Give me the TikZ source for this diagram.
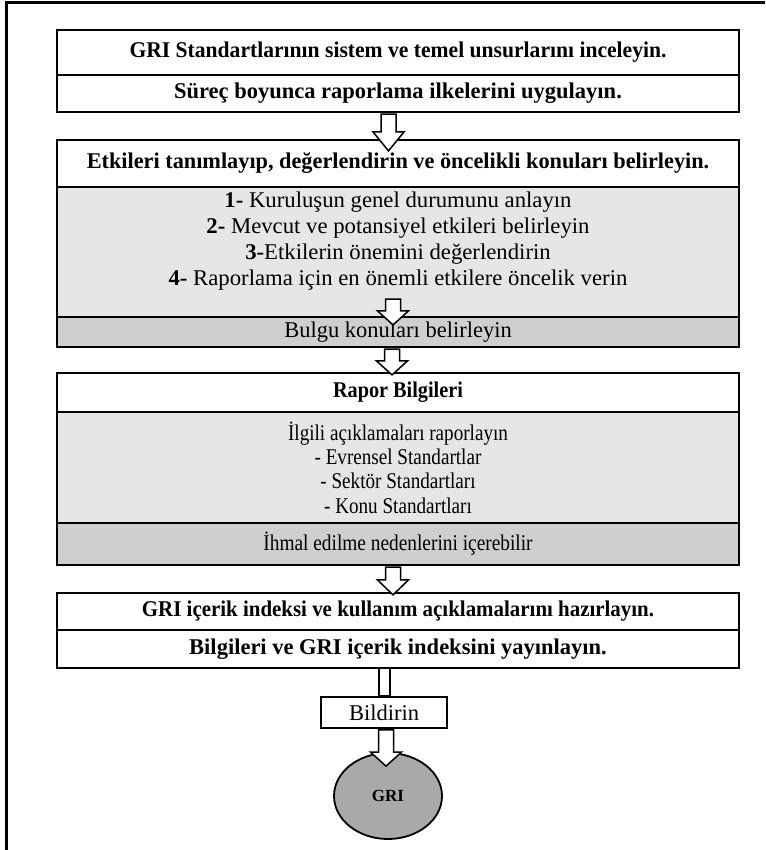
\documentclass[tikz,border=0pt]{standalone}
\usepackage{graphicx}
\usepackage{fontspec}
\setmainfont{Liberation Serif}
\usetikzlibrary{calc,shapes.geometric}
\definecolor{lgrey}{HTML}{E7E6E6}
\definecolor{dgrey}{HTML}{D0CECE}
\definecolor{egrey}{HTML}{ABA8A8}
\newcommand\sqz[2]{\scalebox{#1}[1]{#2}}
\newcommand\barrow[3]{%
  \draw[arr] let \p1=#1, \p2=#2 in
  (\x1-7.5pt,\y1) -- (\x1-7.5pt,\y2+#3) -- (\x1-15.5pt,\y2+#3) -- (\x2,\y2)
  -- (\x1+15.5pt,\y2+#3) -- (\x1+7.5pt,\y2+#3) -- (\x1+7.5pt,\y1) -- cycle;}
\begin{document}
\begin{tikzpicture}[x=1pt,y=-1pt,
  box/.style={draw, line width=2.2pt, minimum width=682pt, inner sep=0pt,
    font=\fontsize{22.5}{26}\selectfont},
  whitebox/.style={box, fill=white},
  lightbox/.style={box, fill=lgrey},
  darkbox/.style={box, fill=dgrey},
  txt/.style={align=center, inner sep=0pt},
  arr/.style={draw, fill=white, line width=1.5pt, line join=miter},
  frame/.style={line width=3pt}]
\useasboundingbox (0,0) rectangle (765,850);
\draw[frame] (6,850) -- (6,3) -- (765,3);

% block A
\node[whitebox, minimum height=45pt] (a1) at (398,52.5)
  {\sqz{0.96}{\bfseries GRI Standartlarının sistem ve temel unsurlarını inceleyin.}};
\node[whitebox, minimum height=37pt] (a2) at (398,93.5)
  {\bfseries Süreç boyunca raporlama ilkelerini uygulayın.};

% block B
\node[whitebox, minimum height=47pt] (b1) at (398,163.5)
  {\sqz{0.99}{\bfseries Etkileri tanımlayıp, değerlendirin ve öncelikli konuları belirleyin.}};
\node[lightbox, minimum height=130pt] (bg) at (398,252) {};
\node[txt, font=\fontsize{22.5}{26}\selectfont] (bi) at (398,241)
  {\sqz{1.01}{\textbf{1-} Kuruluşun genel durumunu anlayın}\\
   \sqz{1.01}{\textbf{2-} Mevcut ve potansiyel etkileri belirleyin}\\
   \sqz{1.01}{\textbf{3-}Etkilerin önemini değerlendirin}\\
   \sqz{1.01}{\textbf{4-} Raporlama için en önemli etkilere öncelik verin}};
\node[darkbox, minimum height=30pt] (bband) at (398,332) {Bulgu konuları belirleyin};

% block C
\node[whitebox, minimum height=39pt] (c1) at (398,392.5) {\sqz{0.9}{\bfseries Rapor Bilgileri}};
\node[lightbox, minimum height=111pt] (cg) at (398,467.5) {};
\node[txt, font=\fontsize{22.5}{24.4}\selectfont] (ci) at (398,467.5)
  {\sqz{0.85}{İlgili açıklamaları raporlayın}\\
   \sqz{0.85}{- Evrensel Standartlar}\\
   \sqz{0.85}{- Sektör Standartları}\\
   \sqz{0.85}{- Konu Standartları}};
\node[darkbox, minimum height=42pt] (cband) at (398,544)
  {\sqz{0.86}{İhmal edilme nedenlerini içerebilir}};

% block D
\node[whitebox, minimum height=37pt] (d1) at (398,611.5)
  {\sqz{0.93}{\bfseries GRI içerik indeksi ve kullanım açıklamalarını hazırlayın.}};
\node[whitebox, minimum height=38pt] (d2) at (398,649)
  {\bfseries Bilgileri ve GRI içerik indeksini yayınlayın.};

% end
\node[draw, fill=white, line width=1.8pt, minimum width=126pt, minimum height=31pt,
  inner sep=0pt, font=\fontsize{22.5}{26}\selectfont] (bild) at (384,712.5) {Bildirin};
\node[ellipse, draw, fill=egrey, line width=1.8pt, minimum width=108pt, minimum height=86pt,
  inner sep=0pt, font=\fontsize{17}{20}\selectfont\bfseries] (gri) at (388,796) {GRI};

% arrows
\barrow{($(a2.south)+(-9.5,1)$)}{($(b1.north)+(-9.5,12)$)}{19pt}
\barrow{($(bg.south)+(-5,-19)$)}{($(bband.north)+(-5,9)$)}{14pt}
\barrow{($(bband.south)+(-6,1)$)}{($(c1.north)+(-6,3)$)}{14pt}
\barrow{($(cband.south)+(-5,1)$)}{($(d1.north)+(-5,3)$)}{15pt}
\draw[arr] ($(d2.south)+(-19,-1)$) rectangle ($(bild.north)+(6,0)$);
\barrow{($(bild.south)+(2,1)$)}{($(gri.north)+(-2,14)$)}{14pt}
\end{tikzpicture}
\end{document}
